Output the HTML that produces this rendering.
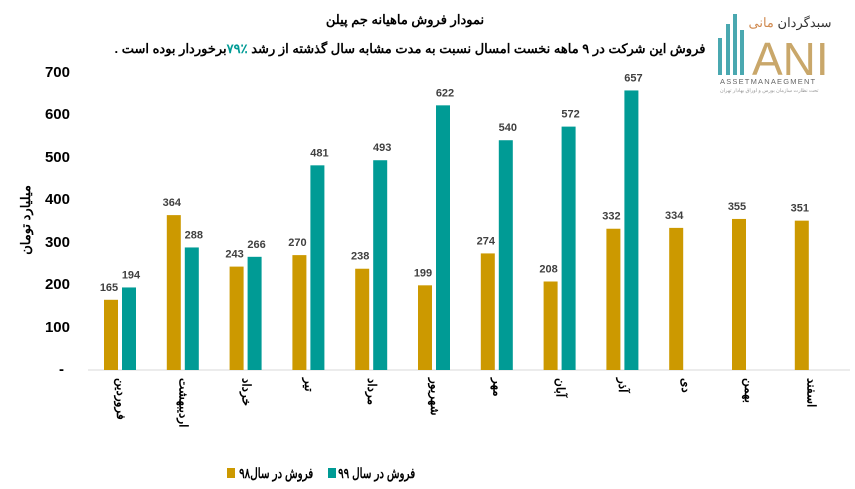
<!DOCTYPE html>
<html><head><meta charset="utf-8"><style>
body{margin:0;background:#fff;width:855px;height:489px;overflow:hidden;position:relative}
text{font-family:"Liberation Sans","Noto Sans CJK SC",sans-serif}
.lg{position:absolute;top:463px;font:bold 14px "Liberation Sans","Noto Sans CJK SC",sans-serif;white-space:nowrap;line-height:20px;transform:scaleX(0.74);transform-origin:right center}
.sq{position:absolute;top:468px;width:8px;height:10px}
</style></head><body>
<svg width="855" height="489" viewBox="0 0 855 489" xmlns="http://www.w3.org/2000/svg" style="position:absolute;left:0;top:0">
<text x="405" y="24" font-size="13" font-weight="bold" text-anchor="middle" direction="rtl">نمودار فروش ماهیانه جم پیلن</text>
<text x="410" y="53" font-size="13" font-weight="bold" text-anchor="middle" direction="rtl">فروش این شرکت در ۹ ماهه نخست امسال نسبت به مدت مشابه سال گذشته از رشد <tspan fill="#009B95">٪۷۹</tspan>برخوردار بوده است .</text>
<g>
<rect x="718" y="38" width="4" height="37" fill="#4aa8b0"/>
<rect x="726" y="24" width="4" height="51" fill="#4aa8b0"/>
<rect x="733" y="14" width="4" height="61" fill="#4aa8b0"/>
<rect x="740" y="30" width="4" height="45" fill="#4aa8b0"/>
<text x="752" y="75" font-size="46" fill="#c9a76a" font-family="Liberation Serif">ANI</text>
<text x="790" y="27" font-size="13" fill="#333" text-anchor="middle">سبدگردان <tspan fill="#d08a50">مانی</tspan></text>
<text x="720" y="84" font-size="7.5" fill="#666" letter-spacing="1.2">ASSETMANAEGMENT</text>
<text x="720" y="92" font-size="5" fill="#999">تحت نظارت سازمان بورس و اوراق بهادار تهران</text>
</g>
<g font-size="15" font-weight="bold" text-anchor="end" fill="#000">
<text x="70" y="77">700</text><text x="70" y="119">600</text><text x="70" y="162">500</text><text x="70" y="204">400</text><text x="70" y="247">300</text><text x="70" y="289">200</text><text x="70" y="332">100</text><text x="64" y="374">-</text>
</g>
<text transform="translate(30,220) rotate(-90)" font-size="13" font-weight="bold" text-anchor="middle">میلیارد تومان</text>
<line x1="88" y1="370" x2="850" y2="370" stroke="#d9d9d9" stroke-width="1"/>
<g id="bars" font-size="11" font-weight="bold" fill="#404040" text-anchor="middle"></g>
<g id="labels" font-size="12" font-weight="bold"></g>
</svg>
<div class="sq" style="left:227px;background:#CC9900"></div>
<div class="lg" dir="rtl" style="right:542px">فروش در سال۹۸</div>
<div class="sq" style="left:328px;background:#009B95"></div>
<div class="lg" dir="rtl" style="right:440px">فروش در سال ۹۹</div>
<script>
var a=[165,364,243,270,238,199,274,208,332,334,355,351],b=[194,288,266,481,493,622,540,572,657];
var m=["فروردین","اردیبهشت","خرداد","تیر","مرداد","شهریور","مهر","آبان","آذر","دی","بهمن","اسفند"];
var ns="http://www.w3.org/2000/svg",g=document.getElementById("bars"),L=document.getElementById("labels");
function el(t,o,p,s){var e=document.createElementNS(ns,t);for(var k in o)e.setAttribute(k,o[k]);if(s)e.textContent=s;p.appendChild(e);return e;}
for(var i=0;i<12;i++){var x=104+i*62.8,h=a[i]*0.4255;
el("rect",{x:x,y:370-h,width:14,height:h,fill:"#CC9900"},g);
el("text",{x:x+5,y:370-h-9},g,a[i]);
if(i<9){var h2=b[i]*0.4255;el("rect",{x:x+18,y:370-h2,width:14,height:h2,fill:"#009B95"},g);
el("text",{x:x+27,y:370-h2-9},g,b[i]);}
el("text",{transform:"translate("+(x+16)+",378) rotate(90)","dominant-baseline":"middle"},L,m[i]);}
</script>
</body></html>
